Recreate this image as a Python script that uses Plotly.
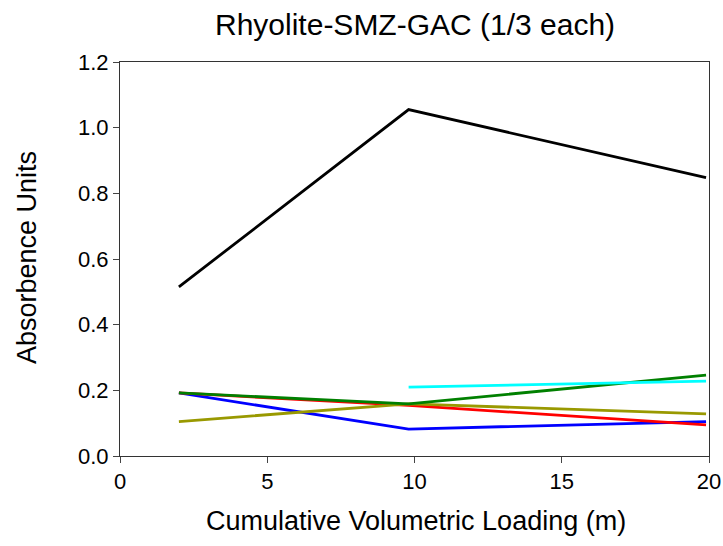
import plotly.graph_objects as go

x_loading = [2, 9.8, 19.9]
black_vals = [0.515, 1.055, 0.848]
blue_vals = [0.192, 0.082, 0.105]
red_vals = [0.192, 0.154, 0.095]
green_vals = [0.192, 0.159, 0.246]
olive_vals = [0.105, 0.159, 0.128]
cyan_vals = [None, 0.21, 0.228]

x_ticks = [0, 5, 10, 15, 20]
y_ticks = [0, 0.2, 0.4, 0.6, 0.8, 1.0, 1.2]

series = [
    ("black", black_vals, "#000000"),
    ("blue", blue_vals, "#0000FF"),
    ("red", red_vals, "#FF0000"),
    ("olive", olive_vals, "#999900"),
    ("green", green_vals, "#008000"),
    ("cyan", cyan_vals, "#00FFFF"),
]

fig = go.Figure()
for name, vals, col in series:
    fig.add_trace(go.Scatter(x=x_loading, y=vals, mode="lines", name=name,
                             line=dict(color=col, width=2.8), connectgaps=False))

font = "Liberation Sans, Arial, sans-serif"
W, H = 723, 546
L, T = 120, 62
R = W - 709
B = H - 456
PW, PH = W - L - R, H - T - B


def px(xp):
    return (xp - L) / PW


def py(yp):
    return (H - B - yp) / PH


fig.update_layout(
    width=W, height=H,
    margin=dict(l=L, r=R, t=T, b=B, autoexpand=False),
    paper_bgcolor="white", plot_bgcolor="white",
    showlegend=False,
    font=dict(family=font, color="#000000"),
)
fig.add_annotation(text="Rhyolite-SMZ-GAC (1/3 each)", xref="paper", yref="paper",
                   x=px(415), y=py(24), xanchor="center", yanchor="middle", showarrow=False,
                   font=dict(size=30, family=font, color="#000000"))
fig.add_annotation(text="Cumulative Volumetric Loading (m)", xref="paper", yref="paper",
                   x=px(416), y=py(521), xanchor="center", yanchor="middle", showarrow=False,
                   font=dict(size=27, family=font, color="#000000"))
fig.add_annotation(text="Absorbence Units", xref="paper", yref="paper",
                   x=px(27), y=py(258), xanchor="center", yanchor="middle", showarrow=False,
                   textangle=-90, font=dict(size=27, family=font, color="#000000"))
fig.update_xaxes(range=[0, 20], tickvals=x_ticks, ticks="outside", ticklen=6,
                 showline=True, linecolor="#333333", linewidth=1, mirror=True,
                 showgrid=False, zeroline=False, tickfont=dict(size=22), automargin=False)
fig.update_yaxes(range=[0, 1.2], tickvals=y_ticks, tickformat=".1f",
                 ticks="outside", ticklen=6,
                 showline=True, linecolor="#333333", linewidth=1, mirror=True,
                 showgrid=False, zeroline=False, tickfont=dict(size=22), automargin=False)
fig.write_html("out.html", config={"displayModeBar": False},
               post_script="document.body.style.margin='0';document.body.style.overflow='hidden';")
